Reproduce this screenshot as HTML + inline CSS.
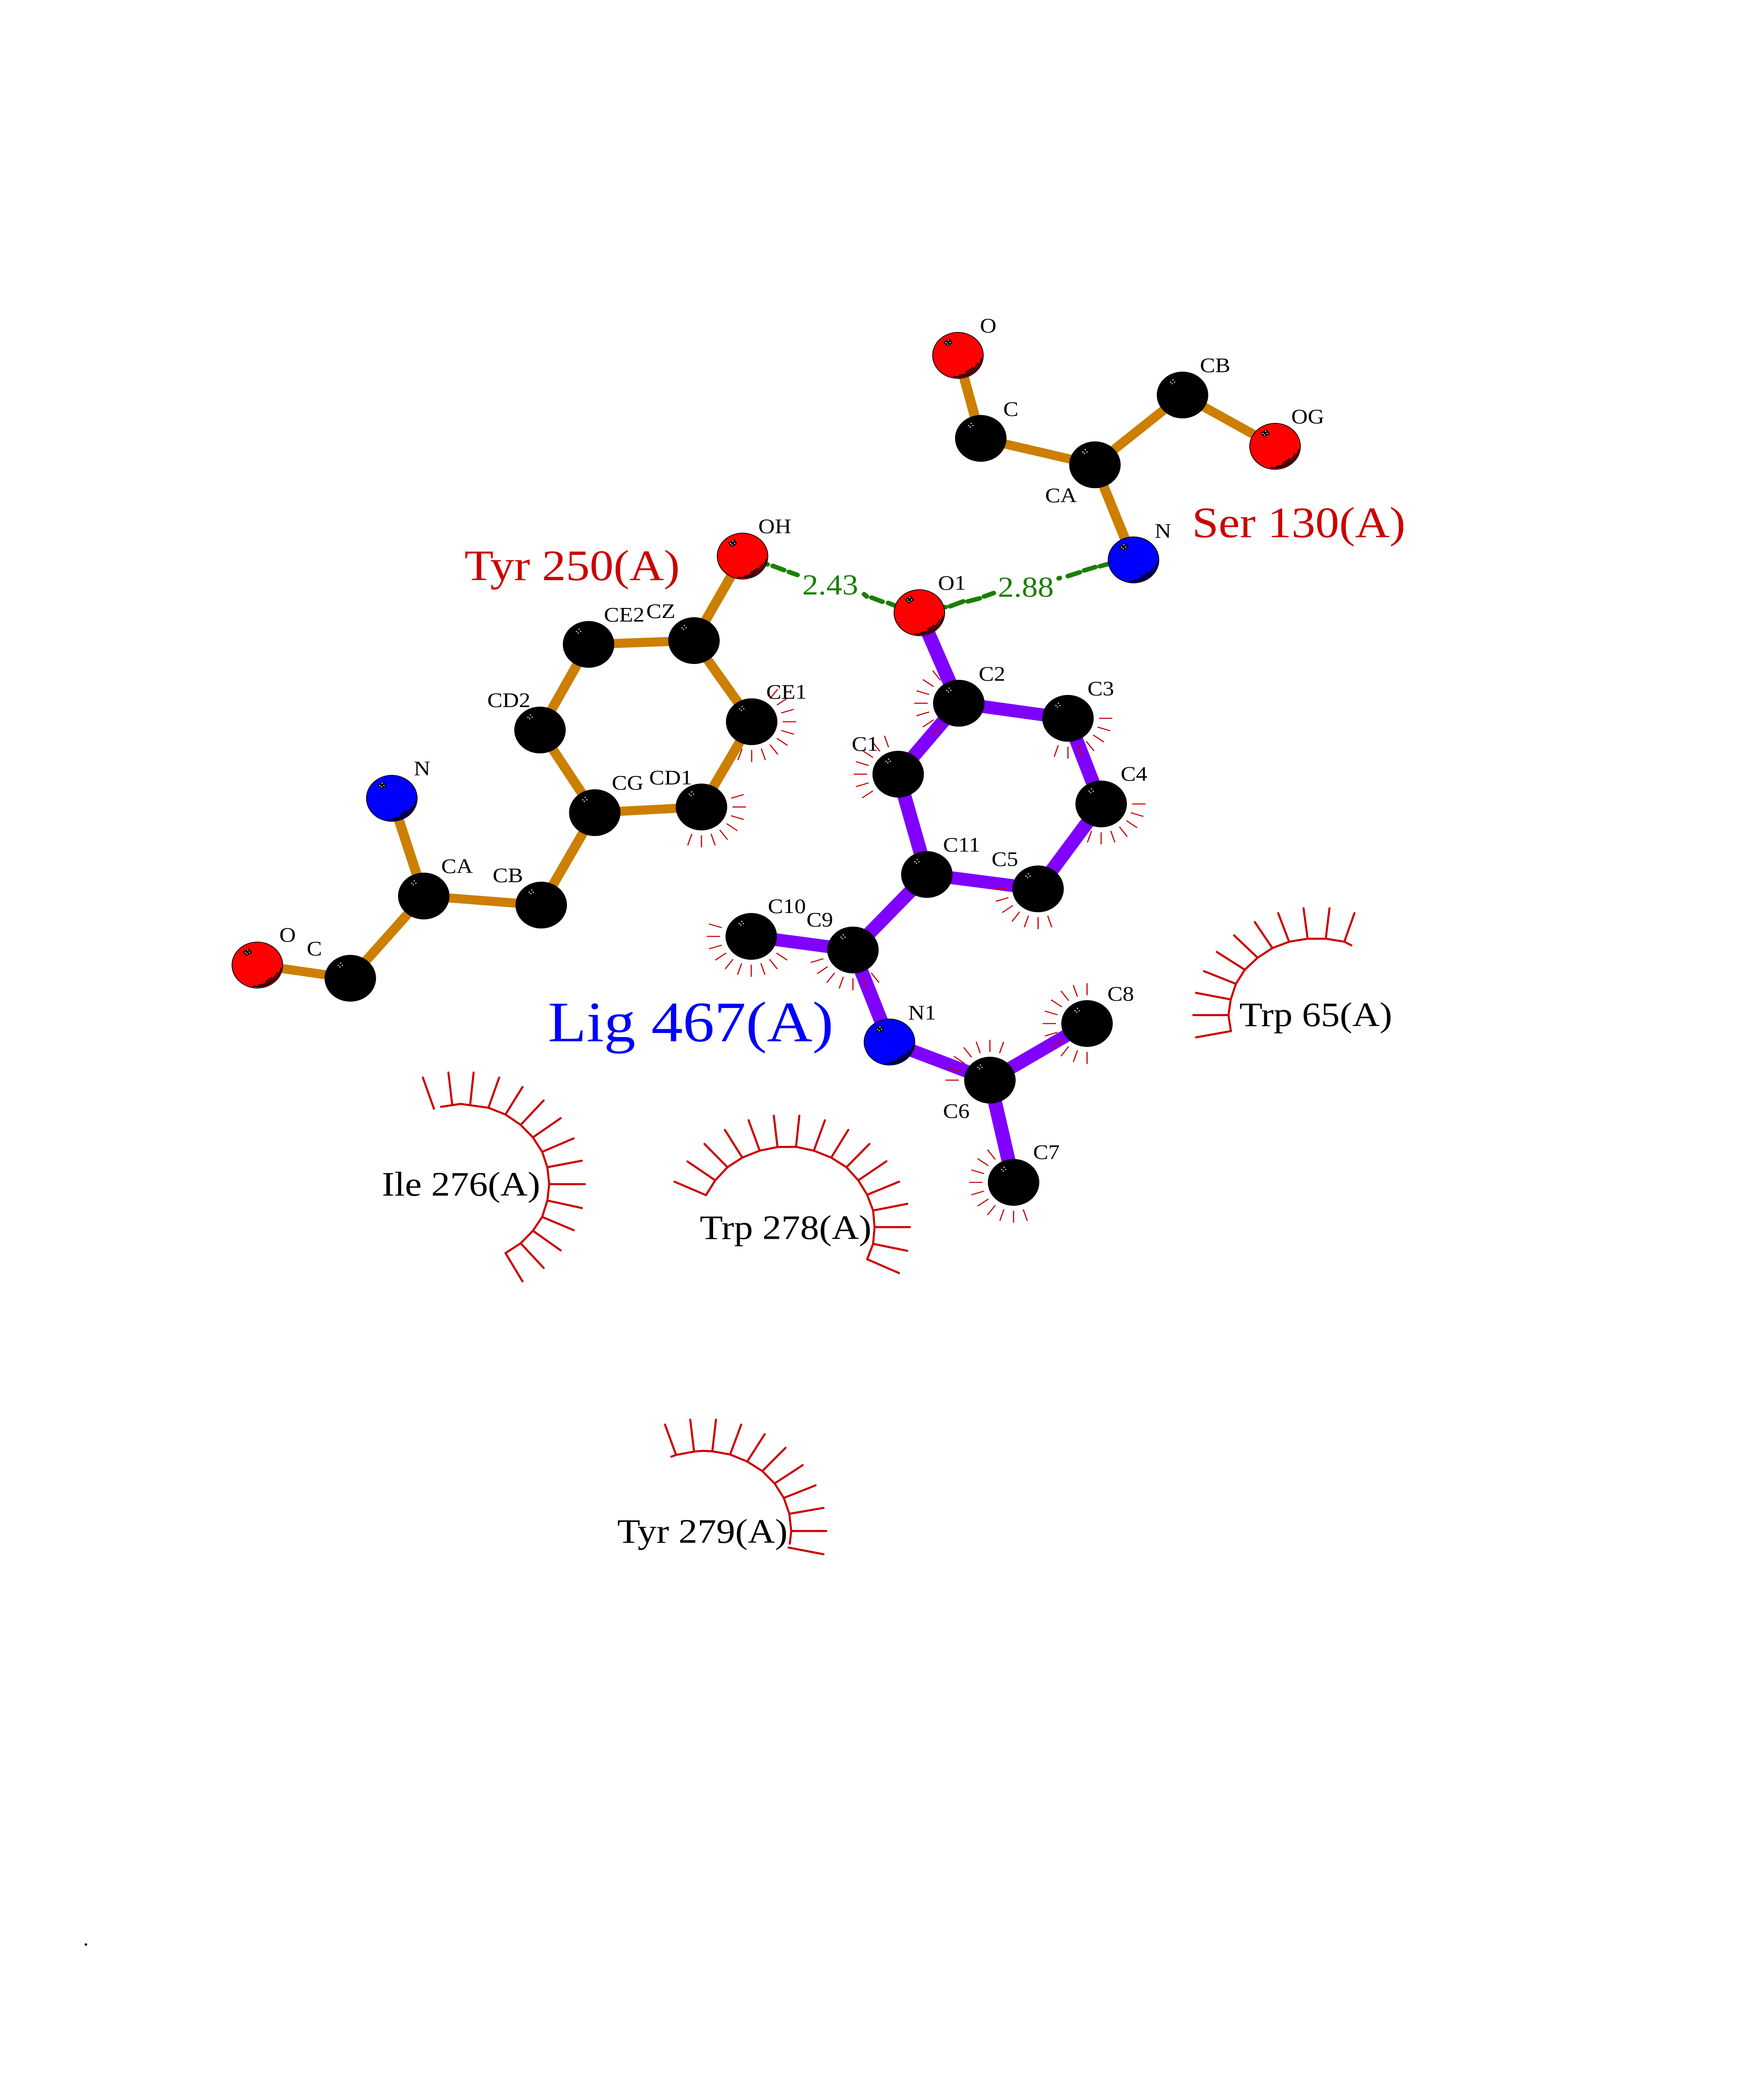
<!DOCTYPE html>
<html lang="en">
<head>
<meta charset="utf-8">
<title>Ligand interaction diagram</title>
<style>
html,body{margin:0;padding:0;background:#fff;width:100%;height:100%;overflow:hidden}
svg{position:absolute;left:0;top:0;display:block;width:100%;height:100%}
text{font-family:"Liberation Serif","Times New Roman",serif}
.a{font-size:55px;fill:#000}
.r{font-size:91px;fill:#000}
.h{font-size:115px;fill:#cc0000}
.d{font-size:77px;fill:#1a7f00}
.o{stroke:#cc7f00;stroke-width:24;fill:none}
.p{stroke:#7f00ff;stroke-width:34;fill:none}
.g{stroke:#1a7f00;stroke-width:12;stroke-linecap:round;fill:none}
.arc polyline,.arc line{stroke:#cc0000;stroke-width:5;fill:none;stroke-linecap:round;stroke-linejoin:round;vector-effect:non-scaling-stroke}
.at{stroke:#000;stroke-width:2}
</style>
</head>
<body>
<svg viewBox="0 0 4250 5500" preserveAspectRatio="none" xmlns="http://www.w3.org/2000/svg">
<defs>
<line id="s" x1="75" y1="0" x2="107" y2="0" stroke="#cc0000" stroke-width="2.8"/>
<g id="dots" fill="#fff">
<circle cx="-29" cy="-34" r="1.5"/><circle cx="-23" cy="-40" r="1.5"/>
<circle cx="-19" cy="-34" r="1.5"/><circle cx="-25" cy="-30" r="1.5"/>
</g>
<g id="hl">
<path d="M57 9A57.5 57.5 0 0 1 -10 56M48 21A52.8 52.8 0 0 1 4 53M35 33A48 48 0 0 1 20 44" fill="none" stroke="#000" stroke-width="3.2" stroke-linecap="round"/>
<polygon points="-35,-35 -20,-45 -13,-33 -26,-24" fill="#000"/>
<use href="#dots"/>
</g>
</defs>

<!-- Ser 130 bonds -->
<g class="o">
<line x1="2308" y1="942" x2="2363" y2="1162"/>
<line x1="2363" y1="1162" x2="2638" y2="1232"/>
<line x1="2638" y1="1232" x2="2849" y2="1047"/>
<line x1="2849" y1="1047" x2="3072" y2="1183"/>
<line x1="2638" y1="1232" x2="2731" y2="1484"/>
<!-- Tyr 250 bonds -->
<line x1="1789" y1="1474" x2="1672" y2="1698"/>
<line x1="1672" y1="1698" x2="1418" y2="1708"/>
<line x1="1418" y1="1708" x2="1301" y2="1935"/>
<line x1="1301" y1="1935" x2="1433" y2="2154"/>
<line x1="1433" y1="2154" x2="1690" y2="2139"/>
<line x1="1690" y1="2139" x2="1811" y2="1913"/>
<line x1="1811" y1="1913" x2="1672" y2="1698"/>
<line x1="1433" y1="2154" x2="1304" y2="2399"/>
<line x1="1304" y1="2399" x2="1021" y2="2375"/>
<line x1="1021" y1="2375" x2="944" y2="2116"/>
<line x1="1021" y1="2375" x2="844" y2="2593"/>
<line x1="844" y1="2593" x2="620" y2="2558"/>
</g>
<!-- Ligand bonds -->
<g class="p">
<line x1="2215" y1="1624" x2="2310" y2="1864"/>
<line x1="2310" y1="1864" x2="2573" y2="1904"/>
<line x1="2573" y1="1904" x2="2653" y2="2131"/>
<line x1="2653" y1="2131" x2="2501" y2="2356"/>
<line x1="2501" y1="2356" x2="2233" y2="2318"/>
<line x1="2233" y1="2318" x2="2164" y2="2052"/>
<line x1="2164" y1="2052" x2="2310" y2="1864"/>
<line x1="2233" y1="2318" x2="2055" y2="2518"/>
<line x1="2055" y1="2518" x2="1810" y2="2482"/>
<line x1="2055" y1="2518" x2="2143" y2="2762"/>
<line x1="2143" y1="2762" x2="2385" y2="2863"/>
<line x1="2385" y1="2863" x2="2619" y2="2713"/>
<line x1="2385" y1="2863" x2="2442" y2="3134"/>
</g>
<!-- H bonds -->
<g class="g">
<line x1="1847" y1="1495" x2="1849" y2="1496"/>
<line x1="1862" y1="1500" x2="1889" y2="1511"/>
<line x1="1901" y1="1516" x2="1921" y2="1524"/>
<line x1="2082" y1="1575" x2="2088" y2="1581"/>
<line x1="2100" y1="1584" x2="2126" y2="1595"/>
<line x1="2140" y1="1598" x2="2160" y2="1607"/>
<line x1="2277" y1="1609" x2="2278" y2="1609"/>
<line x1="2289" y1="1607" x2="2321" y2="1594"/>
<line x1="2332" y1="1594" x2="2360" y2="1586"/>
<line x1="2371" y1="1581" x2="2394" y2="1572"/>
<line x1="2551" y1="1533" x2="2553" y2="1532"/>
<line x1="2573" y1="1527" x2="2601" y2="1517"/>
<line x1="2612" y1="1512" x2="2639" y2="1503"/>
<line x1="2650" y1="1501" x2="2673" y2="1494"/>
</g>

<!-- Atoms -->
<g class="at" fill="#000">
<circle cx="2363" cy="1162" r="61"/><circle cx="2638" cy="1232" r="61"/><circle cx="2849" cy="1047" r="61"/>
<circle cx="1672" cy="1698" r="61"/><circle cx="1418" cy="1708" r="61"/><circle cx="1301" cy="1935" r="61"/>
<circle cx="1433" cy="2154" r="61"/><circle cx="1690" cy="2139" r="61"/><circle cx="1811" cy="1913" r="61"/>
<circle cx="1304" cy="2399" r="61"/><circle cx="1021" cy="2375" r="61"/><circle cx="844" cy="2593" r="61"/>
<circle cx="2310" cy="1864" r="61"/><circle cx="2573" cy="1904" r="61"/><circle cx="2653" cy="2131" r="61"/>
<circle cx="2501" cy="2356" r="61"/><circle cx="2233" cy="2318" r="61"/><circle cx="2164" cy="2052" r="61"/>
<circle cx="2055" cy="2518" r="61"/><circle cx="1810" cy="2482" r="61"/><circle cx="2385" cy="2863" r="61"/>
<circle cx="2619" cy="2713" r="61"/><circle cx="2442" cy="3134" r="61"/>
</g>
<g class="at" fill="#ff0000">
<circle cx="2308" cy="942" r="61"/><circle cx="3072" cy="1183" r="61"/><circle cx="1789" cy="1474" r="61"/>
<circle cx="2215" cy="1624" r="61"/><circle cx="620" cy="2558" r="61"/>
</g>
<g class="at" fill="#0000ff">
<circle cx="2731" cy="1484" r="61"/><circle cx="944" cy="2116" r="61"/><circle cx="2143" cy="2762" r="61"/>
</g>
<!-- Highlights -->
<use href="#dots" x="2363" y="1162"/><use href="#dots" x="2638" y="1232"/><use href="#dots" x="2849" y="1047"/>
<use href="#dots" x="1672" y="1698"/><use href="#dots" x="1418" y="1708"/><use href="#dots" x="1301" y="1935"/>
<use href="#dots" x="1433" y="2154"/><use href="#dots" x="1690" y="2139"/><use href="#dots" x="1811" y="1913"/>
<use href="#dots" x="1304" y="2399"/><use href="#dots" x="1021" y="2375"/><use href="#dots" x="844" y="2593"/>
<use href="#dots" x="2310" y="1864"/><use href="#dots" x="2573" y="1904"/><use href="#dots" x="2653" y="2131"/>
<use href="#dots" x="2501" y="2356"/><use href="#dots" x="2233" y="2318"/><use href="#dots" x="2164" y="2052"/>
<use href="#dots" x="2055" y="2518"/><use href="#dots" x="1810" y="2482"/><use href="#dots" x="2385" y="2863"/>
<use href="#dots" x="2619" y="2713"/><use href="#dots" x="2442" y="3134"/>
<use href="#hl" x="2308" y="942"/><use href="#hl" x="3072" y="1183"/><use href="#hl" x="1789" y="1474"/>
<use href="#hl" x="2215" y="1624"/><use href="#hl" x="620" y="2558"/>
<use href="#hl" x="2731" y="1484"/><use href="#hl" x="944" y="2116"/><use href="#hl" x="2143" y="2762"/>

<!-- Hydrophobic atom spokes -->
<g transform="translate(1811 1913)"><use href="#s" transform="rotate(-54)"/><use href="#s" transform="rotate(-36)"/><use href="#s" transform="rotate(-18)"/><use href="#s"/><use href="#s" transform="rotate(18)"/><use href="#s" transform="rotate(36)"/><use href="#s" transform="rotate(54)"/><use href="#s" transform="rotate(72)"/><use href="#s" transform="rotate(90)"/><use href="#s" transform="rotate(108)"/></g>
<g transform="translate(1690 2139)"><use href="#s" transform="rotate(-18)"/><use href="#s"/><use href="#s" transform="rotate(18)"/><use href="#s" transform="rotate(36)"/><use href="#s" transform="rotate(54)"/><use href="#s" transform="rotate(72)"/><use href="#s" transform="rotate(90)"/><use href="#s" transform="rotate(108)"/></g>
<g transform="translate(2310 1864)"><use href="#s" transform="rotate(126)"/><use href="#s" transform="rotate(144)"/><use href="#s" transform="rotate(162)"/><use href="#s" transform="rotate(180)"/><use href="#s" transform="rotate(198)"/><use href="#s" transform="rotate(216)"/><use href="#s" transform="rotate(234)"/></g>
<g transform="translate(2573 1904)"><use href="#s"/><use href="#s" transform="rotate(18)"/><use href="#s" transform="rotate(36)"/><use href="#s" transform="rotate(54)"/><use href="#s" transform="rotate(72)"/><use href="#s" transform="rotate(90)"/><use href="#s" transform="rotate(108)"/></g>
<g transform="translate(2164 2052)"><use href="#s" transform="rotate(144)"/><use href="#s" transform="rotate(162)"/><use href="#s" transform="rotate(180)"/><use href="#s" transform="rotate(198)"/><use href="#s" transform="rotate(216)"/><use href="#s" transform="rotate(234)"/><use href="#s" transform="rotate(252)"/></g>
<g transform="translate(2653 2131)"><use href="#s"/><use href="#s" transform="rotate(18)"/><use href="#s" transform="rotate(36)"/><use href="#s" transform="rotate(54)"/><use href="#s" transform="rotate(72)"/><use href="#s" transform="rotate(90)"/><use href="#s" transform="rotate(108)"/></g>
<g transform="translate(2501 2356)"><use href="#s" transform="rotate(72)"/><use href="#s" transform="rotate(90)"/><use href="#s" transform="rotate(108)"/><use href="#s" transform="rotate(126)"/><use href="#s" transform="rotate(144)"/><use href="#s" transform="rotate(162)"/><use href="#s" transform="rotate(180)"/></g>
<g transform="translate(1810 2482)"><use href="#s" transform="rotate(36)"/><use href="#s" transform="rotate(54)"/><use href="#s" transform="rotate(72)"/><use href="#s" transform="rotate(90)"/><use href="#s" transform="rotate(108)"/><use href="#s" transform="rotate(126)"/><use href="#s" transform="rotate(144)"/><use href="#s" transform="rotate(162)"/><use href="#s" transform="rotate(180)"/><use href="#s" transform="rotate(198)"/></g>
<g transform="translate(2055 2518)"><use href="#s" transform="rotate(54)"/><use href="#s" transform="rotate(72)"/><use href="#s" transform="rotate(90)"/><use href="#s" transform="rotate(108)"/><use href="#s" transform="rotate(126)"/><use href="#s" transform="rotate(144)"/><use href="#s" transform="rotate(162)"/></g>
<g transform="translate(2619 2713)"><use href="#s" transform="rotate(90)"/><use href="#s" transform="rotate(108)"/><use href="#s" transform="rotate(126)"/><use href="#s" transform="rotate(144)"/><use href="#s" transform="rotate(162)"/><use href="#s" transform="rotate(180)"/><use href="#s" transform="rotate(198)"/><use href="#s" transform="rotate(216)"/><use href="#s" transform="rotate(234)"/><use href="#s" transform="rotate(252)"/><use href="#s" transform="rotate(270)"/></g>
<g transform="translate(2385 2863)"><use href="#s" transform="rotate(180)"/><use href="#s" transform="rotate(198)"/><use href="#s" transform="rotate(216)"/><use href="#s" transform="rotate(234)"/><use href="#s" transform="rotate(252)"/><use href="#s" transform="rotate(270)"/><use href="#s" transform="rotate(288)"/></g>
<g transform="translate(2442 3134)"><use href="#s" transform="rotate(72)"/><use href="#s" transform="rotate(90)"/><use href="#s" transform="rotate(108)"/><use href="#s" transform="rotate(126)"/><use href="#s" transform="rotate(144)"/><use href="#s" transform="rotate(162)"/><use href="#s" transform="rotate(180)"/><use href="#s" transform="rotate(198)"/><use href="#s" transform="rotate(216)"/><use href="#s" transform="rotate(234)"/></g>

<!-- Ile 276 / Trp 278 arcs -->
<g class="arc" transform="translate(900 2700) scale(0.89286 0.51020)">
<polyline points="182,458 235,443 310,463 356,498 397,552 430,617 455,692 469,772 474,860 469,945 455,1030 430,1102 397,1167 356,1218"/>
<line x1="163" y1="468" x2="133" y2="306"/><line x1="212" y1="443" x2="202" y2="280"/><line x1="261" y1="443" x2="270" y2="280"/>
<line x1="310" y1="463" x2="339" y2="306"/><line x1="356" y1="498" x2="402" y2="355"/><line x1="397" y1="552" x2="459" y2="425"/>
<line x1="430" y1="617" x2="505" y2="517"/><line x1="455" y1="692" x2="540" y2="622"/><line x1="469" y1="772" x2="562" y2="738"/>
<line x1="474" y1="860" x2="570" y2="860"/><line x1="469" y1="945" x2="562" y2="984"/><line x1="455" y1="1030" x2="540" y2="1099"/>
<line x1="430" y1="1102" x2="505" y2="1204"/><line x1="397" y1="1167" x2="459" y2="1295"/><line x1="356" y1="1218" x2="402" y2="1365"/>
<polyline points="897,917 922,840 955,772 995,722 1042,686 1090,667 1140,666 1188,686 1235,722 1276,772 1308,840 1332,915 1348,997 1352,1083 1348,1170 1332,1250"/>
<line x1="897" y1="917" x2="812" y2="847"/><line x1="922" y1="840" x2="847" y2="742"/><line x1="955" y1="772" x2="893" y2="651"/>
<line x1="995" y1="722" x2="948" y2="578"/><line x1="1042" y1="686" x2="1012" y2="528"/><line x1="1090" y1="667" x2="1080" y2="504"/>
<line x1="1140" y1="666" x2="1149" y2="504"/><line x1="1188" y1="686" x2="1218" y2="528"/><line x1="1235" y1="722" x2="1281" y2="578"/>
<line x1="1276" y1="772" x2="1338" y2="651"/><line x1="1308" y1="840" x2="1384" y2="741"/><line x1="1332" y1="915" x2="1418" y2="847"/>
<line x1="1348" y1="997" x2="1440" y2="962"/><line x1="1352" y1="1083" x2="1447" y2="1083"/><line x1="1348" y1="1170" x2="1440" y2="1206"/>
<line x1="1332" y1="1250" x2="1418" y2="1322"/>
</g>
<!-- Tyr 279 arc -->
<g class="arc" transform="translate(1500 3600) scale(0.38265 0.38265)">
<polyline points="307,682 337,670 450,647 505,642 565,645 677,667 785,716 880,782 957,868 1015,968 1050,1078 1062,1197 1053,1285"/>
<line x1="335" y1="665" x2="267" y2="460"/><line x1="450" y1="645" x2="426" y2="426"/><line x1="565" y1="645" x2="588" y2="426"/>
<line x1="677" y1="667" x2="747" y2="460"/><line x1="785" y1="716" x2="895" y2="526"/><line x1="880" y1="782" x2="1026" y2="621"/>
<line x1="957" y1="868" x2="1134" y2="741"/><line x1="1015" y1="968" x2="1215" y2="881"/><line x1="1050" y1="1078" x2="1265" y2="1037"/>
<line x1="1065" y1="1197" x2="1282" y2="1197"/><line x1="1045" y1="1312" x2="1265" y2="1358"/>
</g>
<!-- Trp 65 arc -->
<g class="arc" transform="translate(2750 2300) scale(0.44643 0.31888)">
<polyline points="483,1358 470,1225 482,1095 510,965 558,848 627,748 707,668 797,615 897,590 995,590 1095,615 1133,645"/>
<line x1="483" y1="1358" x2="295" y2="1410"/><line x1="470" y1="1225" x2="280" y2="1225"/><line x1="482" y1="1095" x2="295" y2="1040"/>
<line x1="510" y1="965" x2="338" y2="860"/><line x1="558" y1="848" x2="407" y2="700"/><line x1="627" y1="748" x2="500" y2="562"/>
<line x1="707" y1="668" x2="612" y2="452"/><line x1="797" y1="615" x2="738" y2="377"/><line x1="897" y1="590" x2="875" y2="337"/>
<line x1="995" y1="590" x2="1015" y2="337"/><line x1="1095" y1="615" x2="1150" y2="377"/>
</g>

<!-- Atom labels -->
<g class="a">
<text x="2361" y="881">O</text><text x="2417" y="1102">C</text><text x="2891" y="986">CB</text>
<text x="3111" y="1122">OG</text><text x="2518" y="1331">CA</text><text x="2782" y="1425">N</text>
<text x="1827" y="1413">OH</text><text x="2260" y="1563">O1</text>
<text x="1455" y="1647">CE2</text><text x="1557" y="1638">CZ</text><text x="1846" y="1852">CE1</text>
<text x="1174" y="1874">CD2</text><text x="1474" y="2093">CG</text><text x="1564" y="2079">CD1</text>
<text x="997" y="2055">N</text><text x="1063" y="2314">CA</text><text x="1187" y="2338">CB</text>
<text x="739" y="2532">C</text><text x="673" y="2496">O</text>
<text x="2358" y="1804">C2</text><text x="2620" y="1843">C3</text><text x="2052" y="1990">C1</text>
<text x="2700" y="2069">C4</text><text x="2272" y="2257">C11</text><text x="2389" y="2295">C5</text>
<text x="1850" y="2420">C10</text><text x="1943" y="2456">C9</text><text x="2188" y="2702">N1</text>
<text x="2668" y="2652">C8</text><text x="2272" y="2963">C6</text><text x="2489" y="3072">C7</text>
<text x="200" y="5157">.</text>
</g>
<!-- Distances -->
<text class="d" x="1933" y="1576">2.43</text>
<text class="d" x="2404" y="1582">2.88</text>
<!-- Residue labels -->
<text class="h" x="2872" y="1424">Ser 130(A)</text>
<text class="h" x="1119" y="1538">Tyr 250(A)</text>
<text x="1320" y="2760" font-size="152" fill="#0000ff">Lig 467(A)</text>
<text class="r" x="2986" y="2720">Trp 65(A)</text>
<text class="r" x="920" y="3169">Ile 276(A)</text>
<text class="r" x="1686" y="3284">Trp 278(A)</text>
<text class="r" x="1487" y="4089">Tyr 279(A)</text>
</svg>
</body>
</html>
